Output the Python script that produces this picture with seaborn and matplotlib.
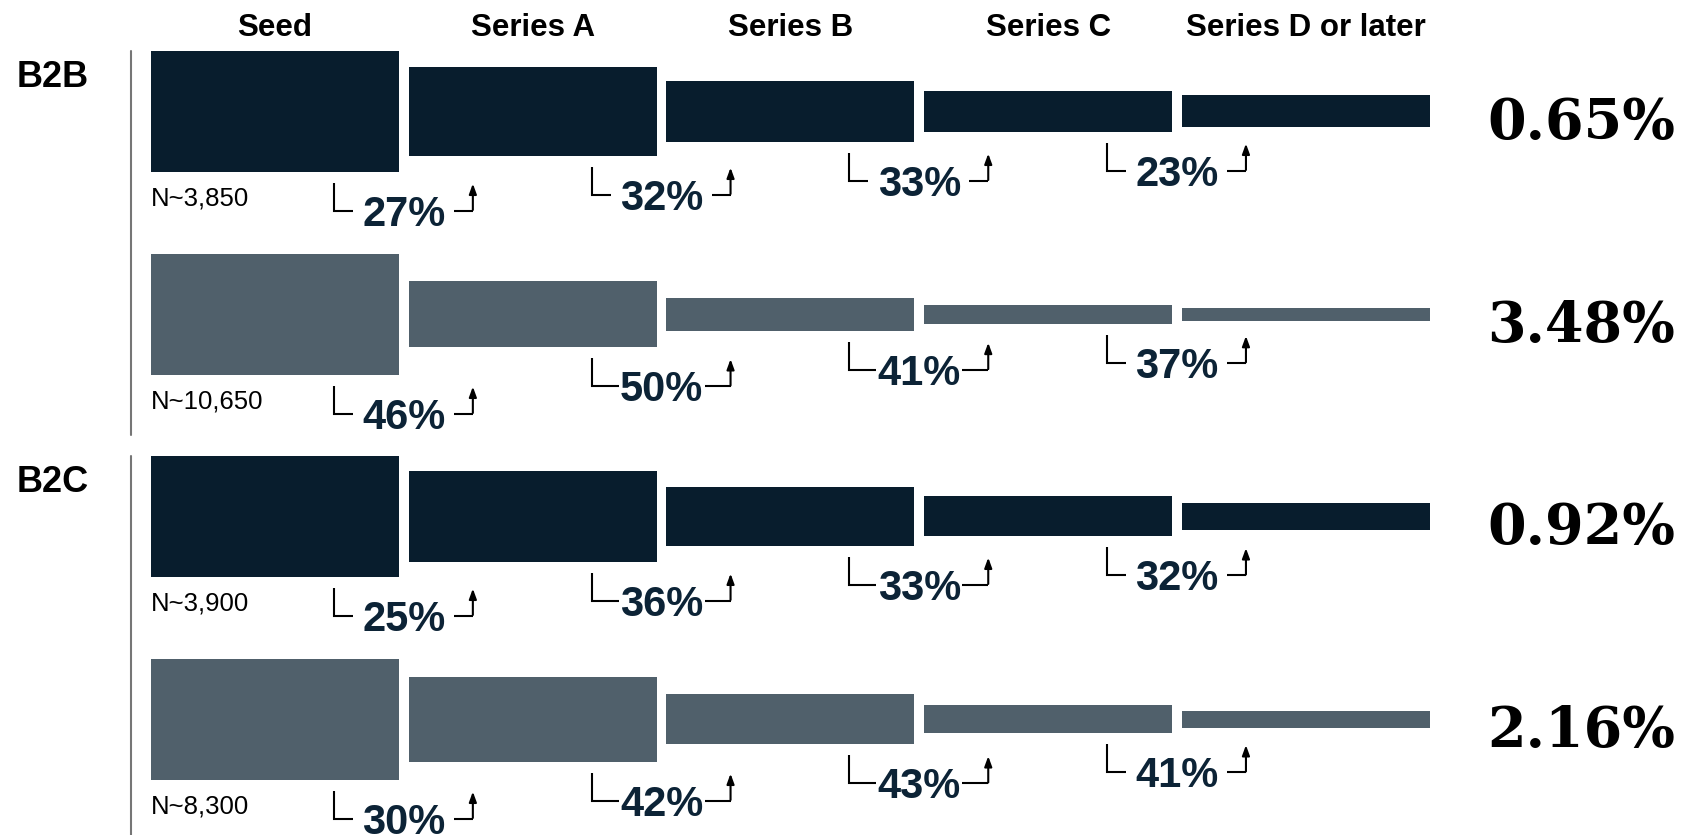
import matplotlib
matplotlib.use("Agg")
import matplotlib.pyplot as plt
from matplotlib.lines import Line2D
import pandas as pd
import seaborn as sns

# ---- data ---------------------------------------------------------------
stages = ["Seed", "Series A", "Series B", "Series C", "Series D or later"]
segments = ["B2B", "B2C"]
cohort_n = ["N~3,850", "N~10,650", "N~3,900", "N~8,300"]

# relative bar size per stage (Seed = 100)
size_b2b_dark = [100, 73.5, 50.3, 33.7, 26.3]
size_b2b_gray = [100, 54.4, 27.3, 16.0, 10.5]
size_b2c_dark = [100, 75.1, 48.6, 32.9, 22.1]
size_b2c_gray = [100, 70.2, 41.2, 22.9, 13.8]

# stage-to-stage graduation rates
rate_b2b_dark = ["27%", "32%", "33%", "23%"]
rate_b2b_gray = ["46%", "50%", "41%", "37%"]
rate_b2c_dark = ["25%", "36%", "33%", "32%"]
rate_b2c_gray = ["30%", "42%", "43%", "41%"]

# overall Seed -> Series D conversion
overall = ["0.65%", "3.48%", "0.92%", "2.16%"]

# ---- styling ------------------------------------------------------------
sns.set_style("white")
plt.rcParams["font.family"] = ["Liberation Sans", "DejaVu Sans"]

W, H, DPI = 1683, 835, 100
NAVY = "#081d2d"
SLATE = "#50606b"
LABEL = "#0c2336"
row_colors = [NAVY, SLATE, NAVY, SLATE]
row_sizes = [size_b2b_dark, size_b2b_gray, size_b2c_dark, size_b2c_gray]
row_rates = [rate_b2b_dark, rate_b2b_gray, rate_b2c_dark, rate_b2c_gray]
# connector lines that run all the way to the label text
joined = [[False, False, False, False],
          [False, True, True, False],
          [False, True, True, False],
          [False, True, True, False]]

row_centers = [111.3, 314.3, 516.3, 719.3]   # px from top
SEED_PX = 120.7                              # height of the Seed bar, px
SLOT = 257.7                                 # px per stage slot
AX_LEFT = 146.15
AX_W = SLOT * 5
AX_H = 200


def fy(y):
    return 1 - y / H


fig = plt.figure(figsize=(W / DPI, H / DPI), dpi=DPI)
fig.patch.set_facecolor("white")

for r in range(4):
    c = row_centers[r]
    ax = fig.add_axes([AX_LEFT / W, 1 - (c + AX_H / 2) / H, AX_W / W, AX_H / H])
    half = [s / 100 * SEED_PX / 2 for s in row_sizes[r]]
    up = pd.DataFrame({"stage": stages, "v": half})
    down = pd.DataFrame({"stage": stages, "v": [-h for h in half]})
    for part in (up, down):
        sns.barplot(data=part, x="stage", y="v", order=stages, color=row_colors[r],
                    saturation=1, width=248 / SLOT, errorbar=None,
                    linewidth=0, edgecolor="none", ax=ax)
    ax.set_xlim(-0.5, 4.5)
    ax.set_ylim(-AX_H / 2, AX_H / 2)
    ax.axis("off")

    # cohort size under the Seed bar
    ax.text(-0.5 + 4.85 / SLOT, -(85.2 + 9.0), cohort_n[r], ha="left", va="baseline",
            fontsize=18.5, color="black")

    # graduation rate between consecutive stages
    for i, rate in enumerate(row_rates[r]):
        xg = i + 0.5
        hl = half[i]
        yc = -(hl + 39)
        ax.text(xg, yc - 15, rate, ha="center", va="baseline", fontsize=30,
                fontweight="bold", color=LABEL)
        xl = xg - 70 / SLOT
        xa = xg + 69 / SLOT
        if joined[r][i]:
            l_end, a_start = xg - 43 / SLOT, xg + 43 / SLOT
        else:
            l_end, a_start = xl + 19 / SLOT, xa - 19 / SLOT
        ax.plot([xl, xl, l_end], [yc + 28, yc, yc], color="black", lw=1.5,
                solid_joinstyle="miter", solid_capstyle="butt", clip_on=False)
        ax.plot([a_start, xa], [yc, yc], color="black", lw=1.5,
                solid_capstyle="butt", clip_on=False)
        ax.annotate("", xy=(xa, yc + 27), xytext=(xa, yc + 0.7),
                    arrowprops=dict(arrowstyle="-|>,head_length=0.6,head_width=0.22",
                                    lw=1.5, color="black", shrinkA=0, shrinkB=0,
                                    mutation_scale=10),
                    annotation_clip=False)

    # overall conversion on the right
    fig.text(1675 / W, fy(c + 28), overall[r], ha="right", va="baseline",
             fontsize=40, fontweight="bold", family=["DejaVu Serif"], color="black")

# stage headers
for i, s in enumerate(stages):
    xc = AX_LEFT + SLOT * (i + 0.5)
    fig.text(xc / W, fy(36), s, ha="center", va="baseline", fontsize=22.5,
             fontweight="bold", color="black")

# segment labels and dividers
for seg, base, (y0, y1) in zip(segments, [87.4, 492.0], [(51, 435), (456, 835)]):
    fig.text(17 / W, fy(base), seg, ha="left", va="baseline", fontsize=26,
             fontweight="bold", color="black")
    fig.add_artist(Line2D([131 / W, 131 / W], [fy(y0), fy(y1)], color="#767676", lw=1.5))

fig.savefig("out.png", dpi=DPI, facecolor="white")
